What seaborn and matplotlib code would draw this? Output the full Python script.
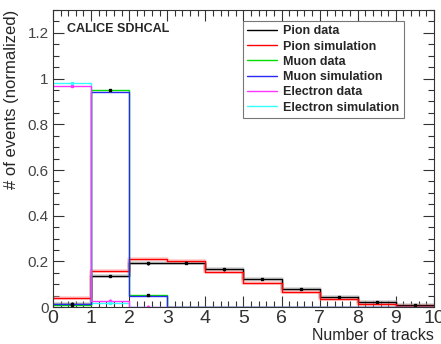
import numpy as np
import pandas as pd
import matplotlib
matplotlib.use("Agg")
import matplotlib.pyplot as plt
import seaborn as sns
from matplotlib.lines import Line2D
from matplotlib.ticker import MultipleLocator, FormatStrFormatter

# bins = number of tracks 0..9 (edges 0..10)
centers = np.arange(10) + 0.5

pion_data = [0.016, 0.136, 0.192, 0.195, 0.165, 0.123, 0.080, 0.045, 0.023, 0.009]
pion_sim = [0.041, 0.159, 0.209, 0.200, 0.155, 0.107, 0.066, 0.035, 0.013, 0.005]
muon_data = [0.010, 0.949, 0.053, 0.0, 0.0, 0.0, 0.0, 0.0, 0.0, 0.0]
muon_sim = [0.013, 0.940, 0.048, 0.0, 0.0, 0.0, 0.0, 0.0, 0.0, 0.0]
elec_data = [0.969, 0.028, 0.003, 0.0, 0.0, 0.0, 0.0, 0.0, 0.0, 0.0]
elec_sim = [0.981, 0.019, 0.001, 0.0, 0.0, 0.0, 0.0, 0.0, 0.0, 0.0]

names = ["Pion data", "Pion simulation", "Muon data", "Muon simulation",
         "Electron data", "Electron simulation"]
series = [pion_data, pion_sim, muon_data, muon_sim, elec_data, elec_sim]
colors = ["black", "#ff0000", "#00dd00", "#2828f0", "#ff33ff", "#33ffff"]

rows = []
for name, vals in zip(names, series):
    for c, v in zip(centers, vals):
        rows.append({"tracks": c, "frac": v, "sample": name})
df = pd.DataFrame(rows)

sns.set_style("ticks")
plt.rcParams["font.family"] = ["Liberation Sans", "DejaVu Sans"]

fig = plt.figure(figsize=(4.41, 3.44), dpi=100)
ax = fig.add_axes([0.120, 0.107, 0.864, 0.864])


def hist(sub, col, lw, alpha=1.0):
    sns.histplot(data=sub, x="tracks", weights="frac", binwidth=1, binrange=(0, 10),
                 element="step", fill=False, color=col, linewidth=lw, alpha=alpha, ax=ax)


# light error bands for the pion histograms
for name, col in [("Pion data", "#aaaaaa"), ("Pion simulation", "#ff9a9a")]:
    hist(df[df["sample"] == name], col, 2.6, 0.5)

draw_order = ["Pion data", "Pion simulation", "Electron simulation", "Muon data",
              "Muon simulation", "Electron data"]
for name in draw_order:
    hist(df[df["sample"] == name], colors[names.index(name)], 1.0)

# data points with small error bars
for name in ["Pion data", "Muon data", "Electron data", "Electron simulation"]:
    sub = df[(df["sample"] == name) & (df["frac"] > 0.002)]
    col = colors[names.index(name)]
    ax.errorbar(sub["tracks"], sub["frac"], yerr=0.006, fmt="s", ms=2,
                color=col if name != "Muon data" else "black", ecolor=col,
                elinewidth=1, capsize=0)

ax.set_xlim(0, 10)
ax.set_ylim(0, 1.3)
ax.set_xlabel("Number of tracks", fontsize=11.5, loc="right", labelpad=1)
ax.set_ylabel("# of events (normalized)", fontsize=12, loc="top", labelpad=6)

ax.xaxis.set_major_locator(MultipleLocator(1))
ax.xaxis.set_minor_locator(MultipleLocator(0.2))
ax.yaxis.set_major_locator(MultipleLocator(0.2))
ax.yaxis.set_minor_locator(MultipleLocator(0.05))
ax.yaxis.set_major_formatter(FormatStrFormatter("%g"))
ax.tick_params(which="both", direction="in", top=True, right=True, colors="#333333")
ax.tick_params(which="major", length=8, width=0.8)
ax.tick_params(which="minor", length=4, width=0.8)
ax.tick_params(axis="x", labelsize=14, pad=2)
ax.tick_params(axis="y", labelsize=11, pad=3, labelcolor="#444444")
for s in ax.spines.values():
    s.set_linewidth(0.8)
    s.set_color("#333333")

ax.text(0.037, 0.936, "CALICE SDHCAL", transform=ax.transAxes, fontsize=9,
        fontweight="bold", va="center", ha="left")

handles = [Line2D([], [], color=c, lw=1) for c in colors]
leg = ax.legend(handles, names, loc="upper left", bbox_to_anchor=(0.499, 0.963),
                borderaxespad=0, frameon=True, fancybox=False, handlelength=2.4,
                borderpad=0.35, labelspacing=0.26, handletextpad=0.45,
                prop={"weight": "bold", "size": 9})
leg.get_frame().set_edgecolor("#555555")
leg.get_frame().set_linewidth(0.8)

fig.savefig("out.png", dpi=100)
